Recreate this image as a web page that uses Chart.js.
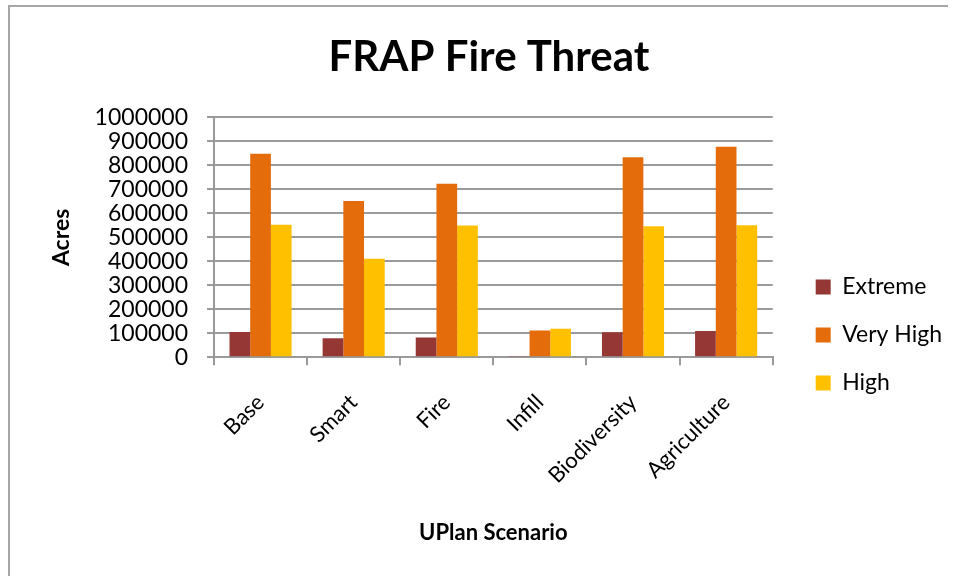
<!DOCTYPE html>
<html>
<head>
<meta charset="utf-8">
<title>FRAP Fire Threat</title>
<script src="https://cdn.jsdelivr.net/npm/chart.js@4.4.1/dist/chart.umd.min.js"></script>
<style>
  html, body { margin: 0; padding: 0; background: #fff; overflow: hidden; }
  #wrap { position: relative; width: 956px; height: 576px; }
  #frame {
    position: absolute; left: 8px; top: 5px; width: 938px; height: 600px;
    border-top: 2px solid #a6a6a6; border-left: 2px solid #a6a6a6;
    pointer-events: none;
  }
  canvas { position: absolute; left: 0; top: 0; }
</style>
</head>
<body>
<div id="wrap">
  <canvas id="chart" width="956" height="576"></canvas>
  <div id="frame"></div>
</div>
<script>
// scenarios on the x axis
const scenarios = ['Base', 'Smart', 'Fire', 'Infill', 'Biodiversity', 'Agriculture'];

// acres per threat class
const extremeAcres = [106000, 80000, 83000, 4000, 105000, 110000];
const veryHighAcres = [848000, 652000, 723000, 112000, 834000, 878000];
const highAcres = [553000, 411000, 549000, 119000, 546000, 551000];

const seriesNames = ['Extreme', 'Very High', 'High'];
const seriesColors = ['#953735', '#e46c0a', '#ffc000'];

// y axis 0 .. 1,000,000 by 100,000
const yMin = 0;
const yMax = 1000000;
const yStep = 100000;

Chart.defaults.font.family = 'Lato, "Open Sans", sans-serif';
Chart.defaults.color = '#000';

const gridGray = '#9a9a9a';

const datasets = [extremeAcres, veryHighAcres, highAcres].map((values, i) => ({
    label: seriesNames[i],
    data: values,
    backgroundColor: seriesColors[i],
    borderWidth: 0,
    categoryPercentage: 0.667,
    barPercentage: 1.0
}));

new Chart(document.getElementById('chart'), {
    type: 'bar',
    data: {
        labels: scenarios,
        datasets: datasets
    },
    options: {
        responsive: false,
        animation: false,
        layout: {
            padding: { left: 26, right: 4, top: 0, bottom: 30 }
        },
        plugins: {
            title: {
                display: true,
                text: 'FRAP Fire Threat',
                font: { size: 42, weight: 'bold' },
                padding: { top: 32, bottom: 35 }
            },
            legend: {
                position: 'right',
                maxWidth: 200,
                // blank legend title pushes the entries down beside the bars
                title: {
                    display: true,
                    text: ' ',
                    font: { size: 10 },
                    padding: { top: 112, bottom: 0 }
                },
                labels: {
                    boxWidth: 15,
                    boxHeight: 15,
                    padding: 25,
                    font: { size: 23 }
                }
            },
            tooltip: { enabled: false }
        },
        scales: {
            x: {
                grid: {
                    drawOnChartArea: false,
                    drawTicks: true,
                    tickLength: 8,
                    color: gridGray,
                    lineWidth: 2
                },
                border: { color: gridGray, width: 2 },
                ticks: {
                    minRotation: 45,
                    maxRotation: 45,
                    padding: 24,
                    font: { size: 22 }
                },
                title: {
                    display: true,
                    text: 'UPlan Scenario',
                    font: { size: 22, weight: 'bold' },
                    padding: { top: 7, bottom: 0 }
                }
            },
            y: {
                min: yMin,
                max: yMax,
                grid: {
                    color: gridGray,
                    lineWidth: 2,
                    tickLength: 7
                },
                border: { color: gridGray, width: 2 },
                ticks: {
                    stepSize: yStep,
                    autoSkip: false,
                    padding: 19,
                    font: { size: 23 },
                    callback: v => String(v)
                },
                title: {
                    display: true,
                    text: 'Acres',
                    font: { size: 23, weight: 'bold' },
                    padding: { top: 22, bottom: 37 }
                },
                // fixed width so the plot starts at the same x every time
                afterFit: s => { s.width = 188; }
            },
            // empty right-hand scale, only used as a gap before the legend
            gap: {
                position: 'right',
                display: true,
                grid: { display: false },
                border: { display: false },
                ticks: { display: false },
                afterFit: s => { s.width = 18; }
            }
        }
    }
});
</script>
</body>
</html>
